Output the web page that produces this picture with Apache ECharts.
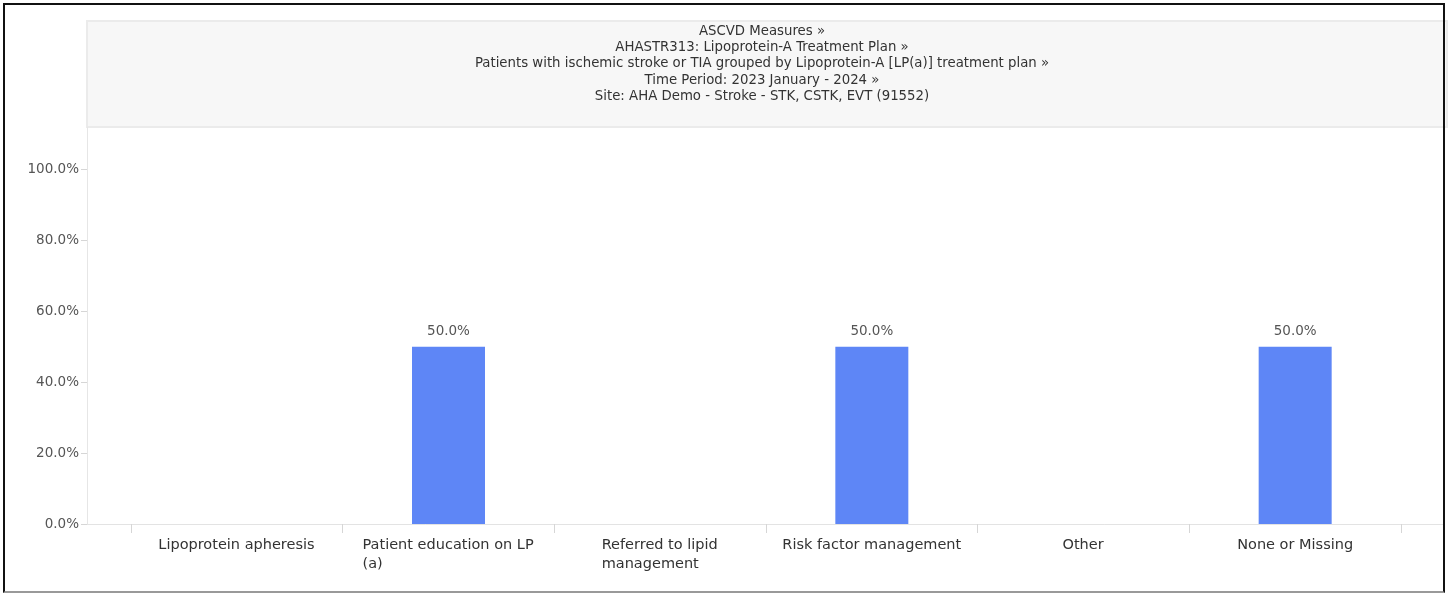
<!DOCTYPE html>
<html>
<head>
<meta charset="utf-8">
<script src="https://cdn.jsdelivr.net/npm/echarts@6/dist/echarts.min.js"></script>
<style>
  body { margin: 0; background: #fff; }
  #chart { width: 1448px; height: 595px; }
  #frame {
    position: absolute; left: 3px; top: 3px; width: 1438px; height: 586px;
    border: 2px solid #111; border-bottom-color: #999; pointer-events: none;
  }
</style>
</head>
<body>
<div id="chart"></div>
<div id="frame"></div>
<script>
// header lines
const titleLines = [
  'ASCVD Measures »',
  'AHASTR313: Lipoprotein-A Treatment Plan »',
  'Patients with ischemic stroke or TIA grouped by Lipoprotein-A [LP(a)] treatment plan »',
  'Time Period: 2023 January - 2024 »',
  'Site: AHA Demo - Stroke - STK, CSTK, EVT (91552)'
]
// categories (line breaks as shown on the axis)
const categories = [
  'Lipoprotein apheresis',
  'Patient education on LP\n(a)',
  'Referred to lipid\nmanagement',
  'Risk factor management',
  'Other',
  'None or Missing'
]
// percent of patients
const values = [0, 50.0, 0, 50.0, 0, 50.0]
const yMin = 0
const yMax = 112
const yStep = 20

const FONT = 'DejaVu Sans'
const X_FONT_SIZE = 14.5
const pct = v => v.toFixed(1) + '%'

// measure lines so wrapped labels stay left aligned inside a centred block
let ctx = document.createElement('canvas').getContext('2d')
ctx.font = X_FONT_SIZE + 'px "' + FONT + '"'
let rich = {}
categories.forEach((c, i) => {
  let w = Math.max(...c.split('\n').map(l => ctx.measureText(l).width))
  rich['c' + i] = { width: Math.ceil(w), align: 'left', fontSize: X_FONT_SIZE, lineHeight: 19, color: '#333', fontFamily: FONT }
})

let my_chart = echarts.init(document.getElementById('chart'), null, { renderer: 'canvas' })
my_chart.setOption({
  animation: false,
  textStyle: { fontFamily: FONT },
  title: {
    text: titleLines.join('\n'),
    left: 757,
    top: 18,
    textAlign: 'center',
    textStyle: { fontSize: 13.3, fontWeight: 'normal', color: '#333', lineHeight: 16.4, fontFamily: FONT }
  },
  graphic: [{
    type: 'rect',
    z: -1,
    shape: { x: 87, y: 21, width: 1360, height: 106 },
    style: { fill: '#f7f7f7', stroke: '#ebebeb', lineWidth: 2 }
  }],
  grid: [
    { left: 87, right: 5, top: 127, bottom: 71 },
    { left: 131, right: 47, top: 127, bottom: 71 }
  ],
  xAxis: [{
    gridIndex: 0,
    type: 'value',
    min: 0,
    max: 1,
    axisLine: { show: true, lineStyle: { color: '#e3e3e3' } },
    axisTick: { show: false },
    axisLabel: { show: false },
    splitLine: { show: false }
  }, {
    gridIndex: 1,
    type: 'category',
    data: categories,
    axisLine: { show: false },
    axisTick: { show: true, length: 9, lineStyle: { color: '#d6d6d6' } },
    axisLabel: {
      interval: 0,
      margin: 12,
      formatter: (v, i) => v.split('\n').map(l => '{c' + i + '|' + l + '}').join('\n'),
      rich: rich
    }
  }],
  yAxis: [{
    gridIndex: 0,
    type: 'value',
    min: yMin,
    max: yMax,
    interval: yStep,
    axisLine: { show: true, lineStyle: { color: '#e6e6e6' } },
    axisTick: { show: true, length: 6, lineStyle: { color: '#d6d6d6' } },
    axisLabel: {
      showMaxLabel: false,
      margin: 8,
      color: '#555',
      fontSize: 13.5,
      formatter: v => (v > 100 ? '' : pct(v))
    },
    splitLine: { show: false }
  }, {
    gridIndex: 1,
    type: 'value',
    min: yMin,
    max: yMax,
    show: false
  }],
  series: [{
    name: 'Treatment plan',
    type: 'bar',
    xAxisIndex: 1,
    yAxisIndex: 1,
    data: values,
    barWidth: 73,
    itemStyle: { color: '#5e86f6' },
    label: {
      show: true,
      position: 'top',
      distance: 8,
      color: '#555',
      fontSize: 13.5,
      formatter: p => (p.value > 0 ? pct(p.value) : '')
    }
  }]
})
</script>
</body>
</html>
